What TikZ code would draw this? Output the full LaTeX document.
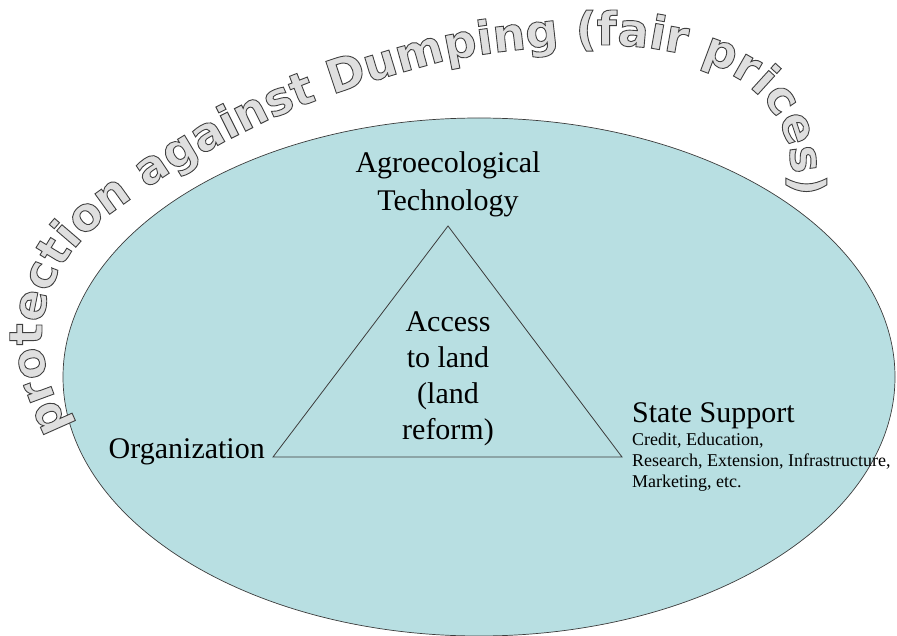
\documentclass[tikz,border=0pt]{standalone}
\usepackage{fontspec}
\setmainfont{Liberation Serif}
\newfontfamily\arcfont{DejaVu Sans}
\usepackage{xcolor}
\usetikzlibrary{decorations.text}

\definecolor{lagoon}{RGB}{184,223,226}
\definecolor{rim}{RGB}{60,60,60}
% hollow letters: fill and stroke
\newcommand{\hollowon}{\special{pdf:literal direct 2 Tr 0.25 G 0.9 w}}

\begin{document}
\begin{tikzpicture}[x=1pt,y=1pt]
    \useasboundingbox (0,0) rectangle (897,-636);

    \draw[rim, fill=lagoon, line width=0.7pt] (479,-377) ellipse [x radius=416, y radius=259];

    \coordinate (T) at (448,-226);
    \coordinate (L) at (273,-457);
    \coordinate (R) at (622,-457);
    \draw[rim, line width=0.8pt] (T) -- (L) -- (R) -- cycle;

    \begin{scope}[every node/.style={text=black, inner sep=0pt}]
        \node[align=center, font=\fontsize{30}{38}\selectfont] (tech) at (448,-184) {Agroecological\\Technology};
        \node[align=center, font=\fontsize{30}{36}\selectfont] (land) at (448,-379) {Access\\to land\\(land\\reform)};
        \node[anchor=base east, font=\fontsize{30}{36}\selectfont] (org) at (265,-458) {Organization};
        \node[anchor=base west, font=\fontsize{30}{36}\selectfont] (state) at (632,-422) {State Support};
        \node[anchor=north west, align=left, font=\fontsize{18}{21}\selectfont] (items) at (632,-432.5) {Credit, Education,\\Research, Extension, Infrastructure,\\Marketing, etc.};
    \end{scope}

    % arched title
    \path[decorate, decoration={text along path,
            text={|\arcfont\bfseries\fontsize{46}{46}\selectfont\hollowon|protection against Dumping (fair prices)},
            text align=center,
            text color=gray!25}]
        (70,-432) -- (58,-405) -- (48,-378) -- (42,-350) -- (42,-325) -- (47,-300)
        -- (56,-277) -- (70,-254) -- (88,-233) -- (110,-214) -- (135,-196) -- (162,-178)
        -- (192,-160) -- (224,-142) -- (258,-125) -- (292,-110) -- (328,-96) -- (364,-84)
        -- (400,-73) -- (436,-63) -- (472,-56) -- (508,-51) -- (544,-47) -- (580,-45)
        -- (616,-45) -- (650,-48) -- (684,-54) -- (716,-66) -- (744,-82) -- (766,-102)
        -- (781,-124) -- (789,-148) -- (792,-172) -- (792,-200);
\end{tikzpicture}
\end{document}
